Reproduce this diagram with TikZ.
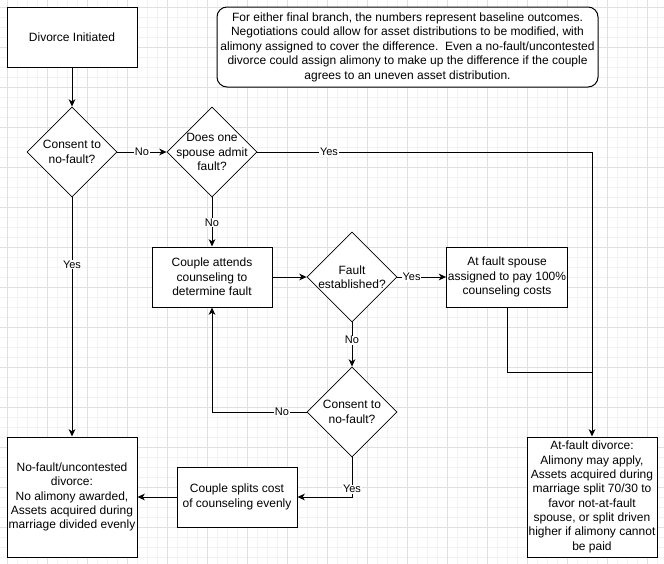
\documentclass[tikz,border=0pt]{standalone}
\usepackage{fontspec}
\setmainfont{Liberation Sans}
\usetikzlibrary{shapes.geometric,arrows.meta}
\begin{document}
\begin{tikzpicture}[x=0.75pt,y=-0.75pt,
  every node/.style={font=\fontsize{9}{10.75}\selectfont},
  box/.style={draw=black,fill=white,line width=0.75pt,align=center,inner sep=1pt,minimum width=#1*0.75pt,minimum height=45pt},
  box/.default=120,
  dia/.style={draw=black,fill=white,line width=0.6pt,diamond,aspect=1,inner sep=0pt,minimum width=67.5pt,minimum height=67.5pt},
  dtxt/.style={align=center,inner sep=0pt,font=\fontsize{9}{10.75}\selectfont},
  note/.style={draw=black,fill=white,line width=0.75pt,rounded corners=7.5pt,align=center,inner sep=0pt,minimum width=285.75pt,minimum height=60pt,font=\fontsize{9}{10.9}\selectfont},
  conn/.style={line width=0.75pt},
  arr/.style={conn,-{Stealth[length=5.5pt,width=5pt,inset=1.6pt]}},
  lbl/.style={fill=white,inner sep=0.5pt,font=\fontsize{8.25}{9}\selectfont}
]
\useasboundingbox (0,0) rectangle (664,564);
\fill[white] (0,0) rectangle (664,564);
% grid
\foreach \i in {0,...,65} {
  \draw[black!5,line width=0.5pt] (7.5+10*\i,0) -- (7.5+10*\i,564);
}
\foreach \i in {0,...,55} {
  \draw[black!5,line width=0.5pt] (0,7.5+10*\i) -- (664,7.5+10*\i);
}
\foreach \i in {0,...,16} {
  \draw[black!12,line width=0.5pt] (7.5+40*\i,0) -- (7.5+40*\i,564);
}
\foreach \i in {0,...,13} {
  \draw[black!12,line width=0.5pt] (0,7.5+40*\i) -- (664,7.5+40*\i);
}

% nodes
\node[box=130] (di) at (72,37) {Divorce Initiated};
\node[note] (nt) at (407.5,47) {For either final branch, the numbers represent baseline outcomes.\\Negotiations could allow for asset distributions to be modified, with\\alimony assigned to cover the difference.\ \ Even a no-fault/uncontested\\divorce could assign alimony to make up the difference if the couple\\agrees to an uneven asset distribution.};
\node[dia] (d1) at (72,152) {};
\node[dtxt] (t1) at (d1.center) {Consent to\\no-fault?};
\node[dia] (d2) at (212,152) {};
\node[dtxt] (t2) at (d2.center) {Does one\\spouse admit\\fault?};
\node[box] (cc) at (212,277) {Couple attends\\counseling to\\determine fault};
\node[dia] (d3) at (352,277) {};
\node[dtxt] (t3) at (d3.center) {Fault\\established?};
\node[box] (ac) at (507,277) {At fault spouse\\assigned to pay 100\%\\counseling costs};
\node[dia] (d4) at (352,412) {};
\node[dtxt] (t4) at (d4.center) {Consent to\\no-fault?};
\node[box] (sp) at (237,497) {Couple splits cost\\of counseling evenly};
\node[box=130,minimum height=90pt] (nf) at (72,497) {No-fault/uncontested\\divorce:\\No alimony awarded,\\Assets acquired during\\marriage divided evenly};
\node[box=130,minimum height=90pt] (af) at (592,497) {At-fault divorce:\\Alimony may apply,\\Assets acquired during\\marriage split 70/30 to\\favor not-at-fault\\spouse, or split driven\\higher if alimony cannot\\be paid};
\coordinate (j) at (592,372);

% connectors
\draw[arr] (di) -- (d1);
\draw[arr] (d1.east) -- node[lbl]{No} (d2.west);
\draw[arr] (d2.east) -| node[lbl,pos=0.107]{Yes} (af.north);
\draw[arr] (d2.south) -- node[lbl,pos=0.52]{No} (cc.north);
\draw[arr] (d1.south) -- node[lbl,pos=0.28]{Yes} (nf.north);
\draw[arr] (cc.east) -- (d3.west);
\draw[arr] (d3.east) -- node[lbl,pos=0.29]{Yes} (ac.west);
\draw[arr] (d3.south) -- node[lbl,pos=0.4]{No} (d4.north);
\draw[conn] (ac.south) |- (j);
\draw[arr] (d4.west) -| node[lbl,pos=0.13]{No} (cc.south);
\draw[arr] (d4.south) |- node[lbl,pos=0.4]{Yes} (sp.east);
\draw[arr] (sp.west) -- (nf.east);
\end{tikzpicture}
\end{document}
